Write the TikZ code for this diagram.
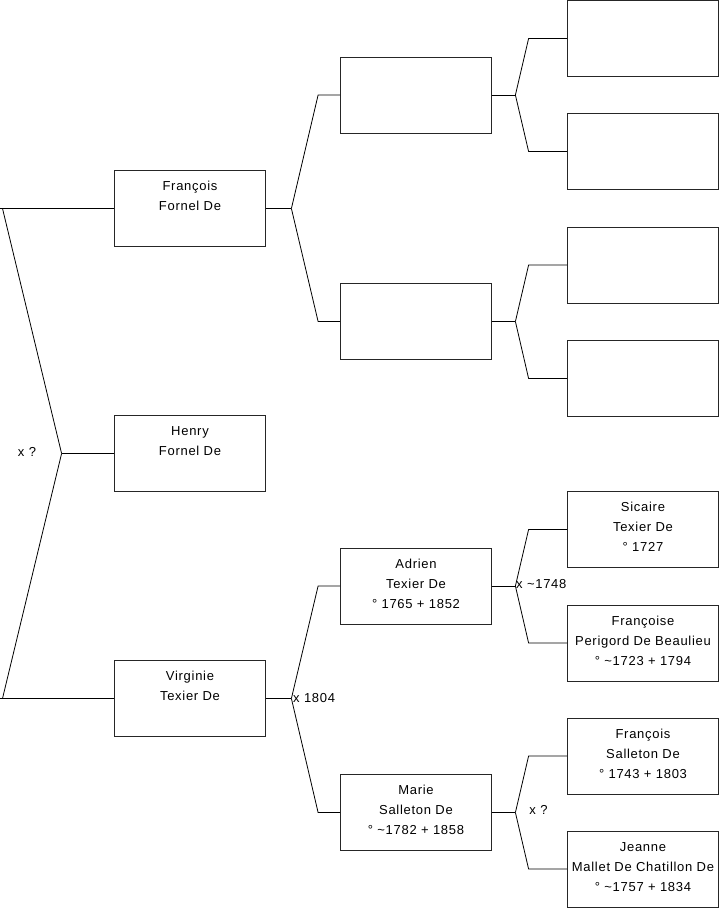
\documentclass[tikz,border=0pt]{standalone}
\usepackage{fontspec}
\setmainfont{Liberation Sans}[LetterSpace=5.5]
\newcommand\pinfo[1]{\begin{minipage}[t][76pt][t]{151pt}\centering\fontsize{13}{20}\selectfont\rule{0pt}{20pt}#1\end{minipage}}
\begin{document}
\begin{tikzpicture}[x=1pt,y=-1pt,
  pbox/.style={draw=black!85, line width=0.8pt, inner sep=0pt, minimum width=151pt, minimum height=76pt},
  link/.style={line width=0.8pt, black},
  mlabel/.style={font=\fontsize{13}{15}\selectfont, inner sep=0pt}]
\useasboundingbox (0,0) rectangle (719,908);
% level 1
\node[pbox] (f) at (190,208.5) {\pinfo{François\\Fornel De}};
\node[pbox] (h) at (190,453.5) {\pinfo{Henry\\Fornel De}};
\node[pbox] (v) at (190,698.5) {\pinfo{Virginie\\Texier De}};
% level 2
\node[pbox] (p1) at (416,95) {\pinfo{}};
\node[pbox] (p2) at (416,321.5) {\pinfo{}};
\node[pbox] (p3) at (416,586) {\pinfo{Adrien\\Texier De\\° 1765 + 1852}};
\node[pbox] (p4) at (416,812.5) {\pinfo{Marie\\Salleton De\\° \textasciitilde1782 + 1858}};
% level 3
\node[pbox] (g1) at (643,38.5) {\pinfo{}};
\node[pbox] (g2) at (643,151.5) {\pinfo{}};
\node[pbox] (g3) at (643,265) {\pinfo{}};
\node[pbox] (g4) at (643,378.5) {\pinfo{}};
\node[pbox] (g5) at (643,529.5) {\pinfo{Sicaire\\Texier De\\° 1727}};
\node[pbox] (g6) at (643,643) {\pinfo{Françoise\\Perigord De Beaulieu\\° \textasciitilde1723 + 1794}};
\node[pbox] (g7) at (643,756) {\pinfo{François\\Salleton De\\° 1743 + 1803}};
\node[pbox] (g8) at (643,869) {\pinfo{Jeanne\\Mallet De Chatillon De\\° \textasciitilde1757 + 1834}};
% root connectors
\coordinate (rf) at ([xshift=-52.5]h.west);
\coordinate (lx) at (2.5,0);
\coordinate (l0) at (0,0);
\draw[link] (h.west) -- (rf);
\draw[link] (rf) -- (f.west -| lx);
\draw[link] (f.west -| l0) -- (f.west);
\draw[link] (rf) -- (v.west -| lx);
\draw[link] (v.west -| l0) -- (v.west);
% other connectors
\foreach \c/\a/\b/\fx/\ex in {f/p1/p2/25.5/22, v/p3/p4/25.5/22, p1/g1/g2/23.5/38.5, p2/g3/g4/23.5/38.5, p3/g5/g6/23.5/38.5, p4/g7/g8/23.5/38.5}{
  \coordinate (\c-k) at ([xshift=\fx]\c.east);
  \draw[link] (\c.east) -- (\c-k);
  \draw[link] (\c-k) -- ([xshift=-\ex]\a.west) -- (\a.west);
  \draw[link] (\c-k) -- ([xshift=-\ex]\b.west) -- (\b.west);
}
% marriage labels
\node[mlabel] (m0) at (27,452) {x ?};
\node[mlabel, anchor=west] (m1) at (293,698) {x 1804};
\node[mlabel, anchor=west] (m2) at (516,584) {x \textasciitilde1748};
\node[mlabel] (m3) at (538.5,810) {x ?};
\end{tikzpicture}
\end{document}
